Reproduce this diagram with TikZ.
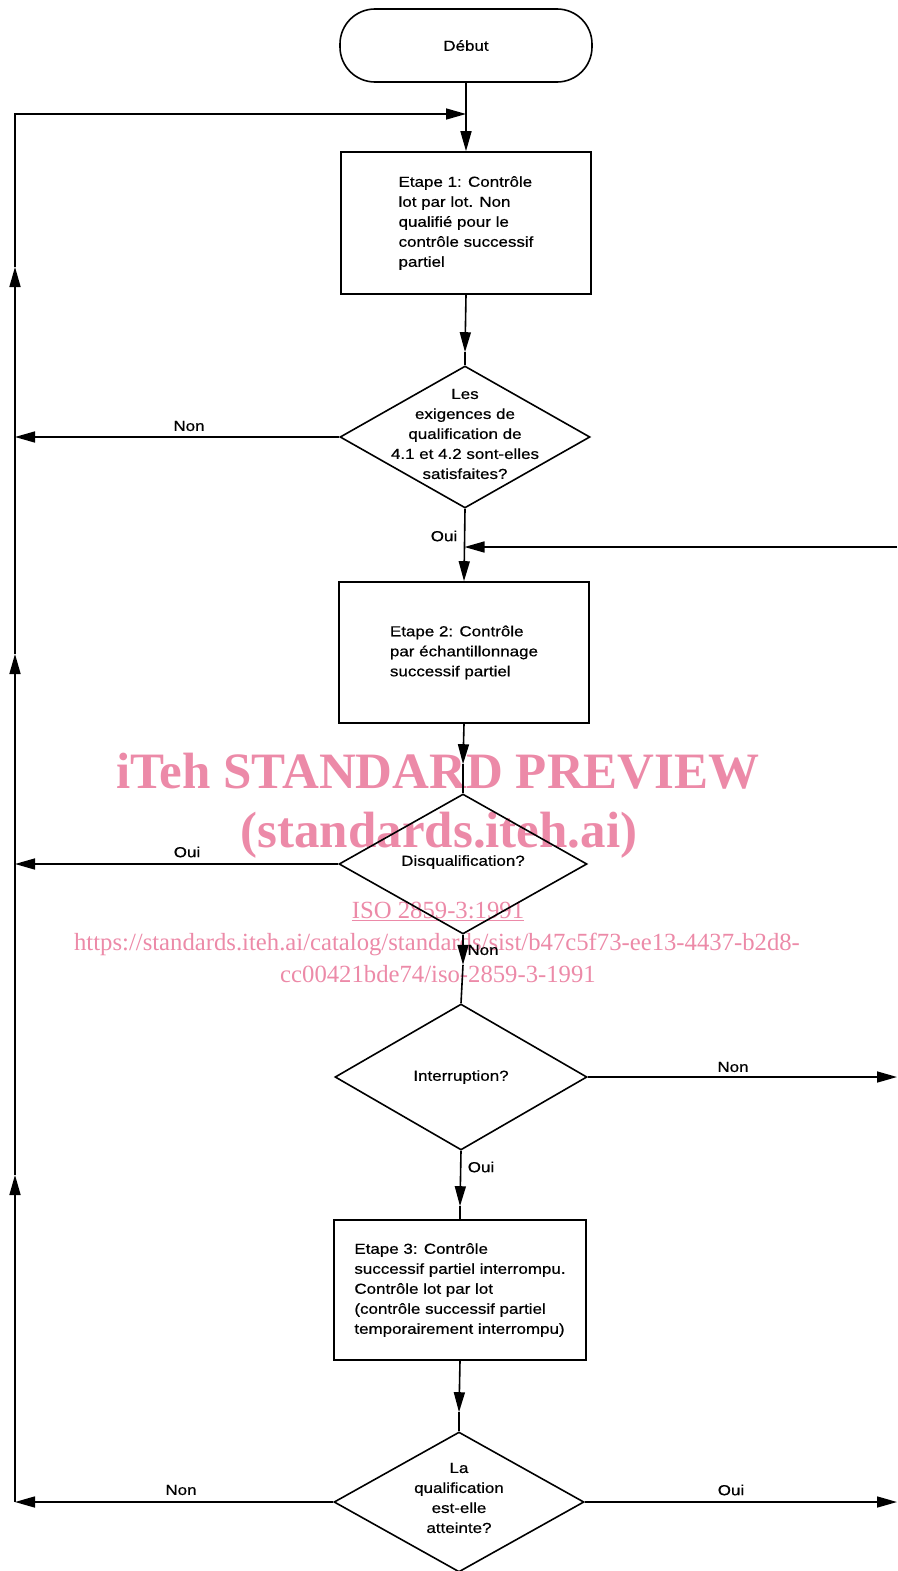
\documentclass[tikz,border=0pt]{standalone}
\usepackage{fontspec}
\setmainfont{Liberation Sans}[FakeStretch=1.17,FakeBold=0.6]
\newfontfamily\wmfont{Liberation Serif}
\usetikzlibrary{arrows.meta,shapes.geometric,calc}
\definecolor{wmpink}{RGB}{236,138,168}
\begin{document}
\begin{tikzpicture}[x=1pt,y=-1pt,line width=1.6pt,
  >={Triangle[length=20pt,width=11pt]},
  txt/.style={font=\fontsize{14.5}{20}\selectfont, inner sep=0pt},
  stepbox/.style={draw, rectangle, align=left, txt, minimum width=250pt, minimum height=141pt},
  startbox/.style={draw, rectangle, rounded corners=35pt, txt, minimum width=252pt, minimum height=73pt},
  dia/.style={draw, diamond, inner sep=0pt, minimum width=250pt, minimum height=142pt},
  dtext/.style={txt, align=center},
  wmbig/.style={text=wmpink, font=\wmfont\bfseries\fontsize{51}{51}\selectfont, inner sep=0pt, anchor=base},
  wmsmall/.style={text=wmpink, font=\wmfont\fontsize{24.7}{25}\selectfont, inner sep=0pt, anchor=base}
]
\useasboundingbox (0,0) rectangle (897,1571);

% watermark (behind)
\node[wmbig] (wm1) at (438,788) {iTeh STANDARD PREVIEW};
\node[wmbig] (wm2) at (439,847) {(standards.iteh.ai)};
\node[wmsmall] (wm3) at (438,918) {\underline{ISO 2859-3:1991}};
\node[wmsmall] (wm4) at (437,950) {https://standards.iteh.ai/catalog/standards/sist/b47c5f73-ee13-4437-b2d8-};
\node[wmsmall] (wm5) at (438,982) {cc00421bde74/iso-2859-3-1991};

% nodes
\node[startbox] (debut) at (466,45.5) {Début};
\node[stepbox, minimum height=142pt] (b1) at (466,223) {Etape 1: Contrôle\\lot par lot. Non\\qualifié pour le\\contrôle successif\\partiel};
\node[dia] (d1) at (465,437) {};
\node[dtext] (t1) at (465,434) {Les\\exigences de\\qualification de\\4.1 et 4.2 sont-elles\\satisfaites?};
\node[stepbox] (b2) at (464,652.5) {Etape 2: Contrôle\\par échantillonnage\\successif partiel};
\node[dia, minimum width=248pt, minimum height=140pt] (d2) at (463,864) {};
\node[dtext] (t2) at (463,862) {Disqualification?};
\node[dia, minimum width=252pt, minimum height=146pt] (d3) at (461,1077) {};
\node[dtext] (t3) at (461,1077) {Interruption?};
\node[stepbox, minimum width=252pt, minimum height=140pt] (b3) at (460,1290) {Etape 3: Contrôle\\successif partiel interrompu.\\Contrôle lot par lot\\(contrôle successif partiel\\temporairement interrompu)};
\node[dia, minimum height=140pt] (d4) at (459,1502) {};
\node[dtext] (t4) at (459,1498) {La\\qualification\\est-elle\\atteinte?};

% coordinates
\coordinate (J) at (466,114);
\coordinate (LT) at (15,114);
\coordinate (LB) at (15,1502);
\coordinate (L1) at (15,437);
\coordinate (L2) at (15,864);
\coordinate (R1) at (897,547);
\coordinate (J2) at (464.5,547);
\coordinate (R3) at (897,1077);
\coordinate (R4) at (897,1502);
\coordinate (m1) at ($(d1.north)+(0,-13)$);
\coordinate (m2) at ($(d2.north)+(0,-29)$);
\coordinate (m3) at ($(d2.south)+(0,30)$);
\coordinate (m4) at ($(b3.north)+(0,-13)$);
\coordinate (m5) at ($(d4.north)+(0,-19)$);
\coordinate (u1) at (15,1175);
\coordinate (u2) at (15,654);
\coordinate (u3) at (15,267);

% connectors
\draw[->] (debut.south) -- (b1.north);
\draw[->] (b1.south) -- (m1);
\draw (m1) -- (d1.north);
\draw[->] (d1.south) -- (b2.north);
\draw[->] (b2.south) -- (m2);
\draw (m2) -- (d2.north);
\draw[->] (d2.south) -- (m3);
\draw (m3) -- (d3.north);
\draw[->] (d3.south) -- (m4);
\draw (m4) -- (b3.north);
\draw[->] (b3.south) -- (m5);
\draw (m5) -- (d4.north);

\draw[->] (d1.west) -- (L1);
\draw[->] (d2.west) -- (L2);
\draw[->] (d4.west) -- (LB);
\draw[->] (d3.east) -- (R3);
\draw[->] (d4.east) -- (R4);
\draw[->] (R1) -- (J2);

% left return line
\draw[->] (LB) -- (u1);
\draw[->] (u1) -- (u2);
\draw[->] (u2) -- (u3);
\draw[->] (u3) -- (LT) -- (J);

% edge labels
\node[txt] (n1) at (189,426) {Non};
\node[txt, anchor=east] (o1) at (458,536) {Oui};
\node[txt] (o2) at (187,852) {Oui};
\node[txt] (n2) at (483,950) {Non};
\node[txt] (n3) at (733,1067) {Non};
\node[txt, anchor=west] (o3) at (467,1167) {Oui};
\node[txt] (n4) at (181,1490) {Non};
\node[txt] (o4) at (731,1490) {Oui};
\end{tikzpicture}
\end{document}
